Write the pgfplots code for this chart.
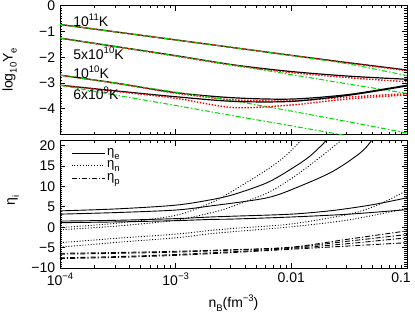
\documentclass[border=0pt]{standalone}
\usepackage{fontspec}
\setmainfont{Liberation Sans}
\usepackage{pgfplots}
\pgfplotsset{compat=1.18}
\definecolor{idlgreen}{RGB}{0,215,0}
\definecolor{idlred}{RGB}{255,0,0}
\newcommand\sps[1]{\raisebox{0.42em}{\fontsize{9.5}{9.5}\selectfont #1}}
\newcommand\sbs[1]{\raisebox{-0.28em}{\fontsize{9.5}{9.5}\selectfont #1}}
\begin{document}
\fontsize{14}{16}\selectfont
\begin{tikzpicture}
\pgfplotsset{
  every axis/.append style={scale only axis, width=347pt, xmode=log, xmin=1e-4, xmax=0.1,
    tick align=inside, major tick length=5pt, minor tick length=2.5pt,
    axis line style={line width=0.9pt}, tick style={line width=0.7pt, black},
    /pgf/number format/assume math mode=true,
    xtick={1e-4,1e-3,1e-2,1e-1}, minor y tick num=9},
  blk/.style={black, line width=1.2pt, smooth},
  rdot/.style={idlred, line width=1.4pt, dash pattern=on 1.4pt off 1.6pt, smooth},
  gdd/.style={idlgreen, line width=1pt, dash pattern=on 5pt off 2pt on 1.5pt off 2pt, smooth},
  ne/.style={black, line width=0.9pt, smooth},
  nn/.style={black, line width=0.9pt, dash pattern=on 1pt off 1.8pt, smooth},
  np/.style={black, line width=0.9pt, dash pattern=on 5pt off 2pt on 1.2pt off 2pt, smooth},
}
\begin{axis}[name=top, at={(0,0)}, anchor=south west, height=128.6pt,
  ymin=-5, ymax=0, ytick={-5,-4,-3,-2,-1,0}, yticklabels={,−4,−3,−2,−1,0},
  xticklabels={},
  ylabel={log\sbs{10}Y\sbs{e}},
  ylabel style={at={(axis description cs:-0.145,0.5)}, anchor=center}]
% T = 1e11 K
\addplot[blk] coordinates {(1e-4,-0.73)(3.1623e-4,-1.03)(1e-3,-1.33)(3.1623e-3,-1.63)(0.01,-1.93)(0.031623,-2.22)(0.1,-2.50)};
\addplot[rdot] coordinates {(1e-4,-0.73)(3.1623e-4,-1.03)(1e-3,-1.33)(3.1623e-3,-1.63)(0.01,-1.93)(0.031623,-2.23)(0.1,-2.53)};
\addplot[gdd] coordinates {(1e-4,-0.73)(3.1623e-4,-1.03)(1e-3,-1.33)(3.1623e-3,-1.63)(0.01,-1.94)(0.031623,-2.27)(0.1,-2.72)};
% T = 5e10 K
\addplot[blk] coordinates {(1e-4,-1.26)(3.1623e-4,-1.60)(1e-3,-1.94)(3.1623e-3,-2.30)(0.01,-2.56)(0.031623,-2.74)(0.1,-2.86)};
\addplot[rdot] coordinates {(1e-4,-1.26)(3.1623e-4,-1.61)(1e-3,-1.96)(3.1623e-3,-2.32)(0.01,-2.60)(0.031623,-2.80)(0.1,-2.96)};
\addplot[gdd] coordinates {(1e-4,-1.26)(3.1623e-4,-1.60)(1e-3,-1.95)(3.1623e-3,-2.31)(0.01,-2.68)(0.031623,-3.05)(0.1,-3.41)};
% T = 1e10 K
\addplot[blk] coordinates {(1e-4,-2.70)(3.1623e-4,-3.02)(1e-3,-3.38)(3.1623e-3,-3.58)(0.01,-3.63)(0.031623,-3.45)(0.1,-3.09)};
\addplot[rdot] coordinates {(1e-4,-2.70)(3.1623e-4,-3.03)(1e-3,-3.40)(3.1623e-3,-3.66)(0.01,-3.70)(0.031623,-3.55)(0.1,-3.42)};
\addplot[gdd] coordinates {(1e-4,-2.70)(3.1623e-4,-3.02)(1e-3,-3.36)(3.1623e-3,-3.70)(0.01,-4.10)(0.031623,-4.52)(0.1,-4.95)};
% T = 6e9 K
\addplot[blk] coordinates {(1e-4,-3.09)(3.1623e-4,-3.32)(1e-3,-3.54)(3.1623e-3,-3.72)(0.01,-3.72)(0.031623,-3.48)(0.1,-3.12)};
\addplot[rdot] coordinates {(1e-4,-3.09)(3.1623e-4,-3.34)(1e-3,-3.60)(3.1623e-3,-3.96)(0.01,-3.86)(0.031623,-3.62)(0.1,-3.47)};
\addplot[gdd] coordinates {(1e-4,-3.09)(3.1623e-4,-3.49)(1e-3,-3.88)(3.1623e-3,-4.28)(0.01,-4.67)(0.031623,-5.07)(0.1,-5.46)};
\node[anchor=base west, inner sep=0pt] at (axis cs:1.3e-4,-0.80) {10\sps{11}K};
\node[anchor=base west, inner sep=0pt] at (axis cs:1.3e-4,-2.08) {5x10\sps{10}K};
\node[anchor=base west, inner sep=0pt] at (axis cs:1.3e-4,-2.82) {10\sps{10}K};
\node[anchor=base west, inner sep=0pt] at (axis cs:1.3e-4,-3.66) {6x10\sps{9}K};
\end{axis}
\begin{axis}[name=bot, at={(0,-6.4pt)}, anchor=north west, height=127.3pt,
  ymin=-10, ymax=21.2, ytick={-10,-5,0,5,10,15,20}, yticklabels={−10,−5,0,5,10,15,20},
  xticklabels={10\sps{−4},10\sps{−3},0.01,\makebox[0pt][c]{\hspace*{-12pt}0.1}},
  xlabel={n\sbs{B}(fm\sps{−3})},
  ylabel={η\sbs{i}},
  ylabel style={at={(axis description cs:-0.135,0.53)}, anchor=center},
  legend style={at={(axis description cs:0.023,0.968)}, anchor=north west, draw=none, fill=none,
    font=\fontsize{13}{13}\selectfont,
    nodes={inner sep=0pt, text height=8.5pt, text depth=4pt, anchor=west}, row sep=0pt},
  legend cell align=left,
  legend image code/.code={\draw[#1] (0pt,0pt) -- (33pt,0pt);}]
\addlegendimage{ne}
\addlegendentry{\,η\sbs{e}}
\addlegendimage{nn}
\addlegendentry{\,η\sbs{n}}
\addlegendimage{np}
\addlegendentry{\,η\sbs{p}}
% electrons
\addplot[ne, forget plot] coordinates {(1e-4,4.0)(3.1623e-4,4.5)(1e-3,5.4)(1.9953e-3,6.7)(3.1623e-3,8.0)(6.166e-3,10.9)(0.01,14.3)(0.014454,17.4)(0.020417,21.5)(0.025,25)};
\addplot[ne, forget plot] coordinates {(1e-4,3.2)(3.1623e-4,3.6)(1e-3,4.2)(1.9953e-3,5.2)(6.166e-3,7.2)(0.011749,10.0)(0.022909,13.7)(0.039811,18.3)(0.050119,21.5)(0.06,25)};
\addplot[ne, forget plot] coordinates {(1e-4,1.5)(3.1623e-4,1.7)(1e-3,2.1)(1.9953e-3,2.5)(3.1623e-3,2.7)(0.01,3.2)(0.022909,4.1)(0.050119,5.5)(0.1,7.2)};
\addplot[ne, forget plot] coordinates {(1e-4,1.1)(3.1623e-4,1.3)(1e-3,1.6)(1.9953e-3,1.9)(3.1623e-3,2.0)(0.01,2.5)(0.031623,3.2)(0.1,4.3)};
% neutrons
\addplot[nn, forget plot] coordinates {(1e-4,-0.1)(3.1623e-4,1.0)(1e-3,2.9)(1.9953e-3,5.9)(3.1623e-3,9.0)(6.166e-3,14.1)(8.9125e-3,17.5)(0.012303,21.5)(0.015,25)};
\addplot[nn, forget plot] coordinates {(1e-4,-0.64)(3.1623e-4,0.3)(1e-3,1.7)(1.9953e-3,3.5)(2.8184e-3,4.7)(6.3096e-3,8.5)(0.011749,13.3)(0.027542,21.5)(0.035,25)};
\addplot[nn, forget plot] coordinates {(1e-4,-3.8)(3.1623e-4,-2.7)(1e-3,-1.7)(1.9953e-3,-0.8)(3.1623e-3,-0.3)(0.01,0.8)(0.031623,3.2)(0.056234,5.5)(0.1,9.0)};
\addplot[nn, forget plot] coordinates {(1e-4,-4.9)(3.1623e-4,-3.7)(1e-3,-2.6)(1.9953e-3,-1.6)(3.1623e-3,-1.1)(0.01,0.1)(0.031623,1.8)(0.1,4.6)};
% protons
\addplot[np, forget plot] coordinates {(1e-4,-6.4)(3.1623e-4,-6.2)(1e-3,-5.9)(3.1623e-3,-5.5)(0.01,-4.9)(0.031623,-2.9)(0.1,-0.9)};
\addplot[np, forget plot] coordinates {(1e-4,-6.6)(3.1623e-4,-6.4)(1e-3,-6.1)(3.1623e-3,-5.6)(0.01,-5.0)(0.031623,-3.4)(0.1,-1.8)};
\addplot[np, forget plot] coordinates {(1e-4,-7.5)(3.1623e-4,-7.2)(1e-3,-6.7)(3.1623e-3,-6.0)(0.01,-5.2)(0.031623,-4.0)(0.1,-2.6)};
\addplot[np, forget plot] coordinates {(1e-4,-7.7)(3.1623e-4,-7.4)(1e-3,-6.9)(3.1623e-3,-6.2)(0.01,-5.4)(0.031623,-4.6)(0.1,-3.8)};
\end{axis}
\pgfresetboundingbox
\useasboundingbox (-60pt,-178.7pt) rectangle (355pt,134.3pt);
\end{tikzpicture}
\end{document}
